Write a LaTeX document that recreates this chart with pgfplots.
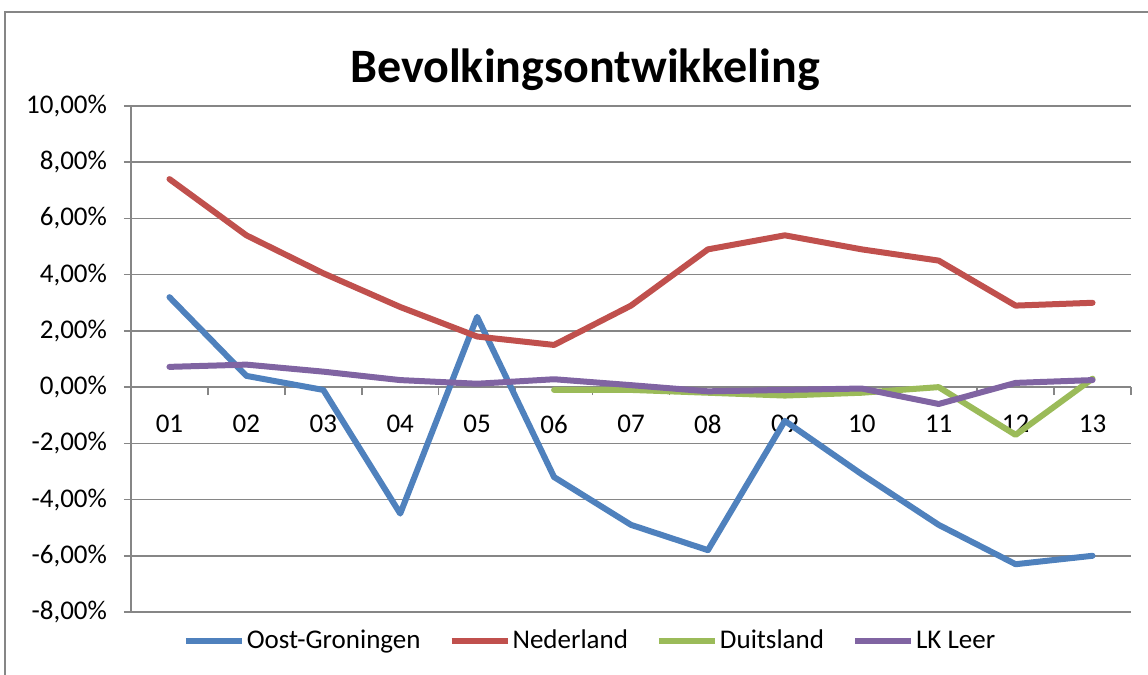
\documentclass[border=0pt]{standalone}
\usepackage{pgfplots}
\pgfplotsset{compat=1.18}
\usepackage{fontspec}
\setmainfont{Carlito}
\definecolor{gridgray}{RGB}{134,134,134}
\definecolor{cblue}{RGB}{79,129,189}
\definecolor{cred}{RGB}{192,80,77}
\definecolor{cgreen}{RGB}{155,187,89}
\definecolor{cpurple}{RGB}{128,100,162}
\begin{document}
\begin{tikzpicture}
\useasboundingbox (0,0) rectangle (574pt,-337.5pt);
\draw[gridgray, line width=1pt] (2.5pt,-6pt) rectangle (600pt,-360pt);
\node[anchor=base, font=\fontsize{24}{28}\selectfont\bfseries] at (292.5pt,-41pt) {Bevolkingsontwikkeling};
\begin{axis}[
  at={(65.5pt,-306pt)}, anchor=south west,
  scale only axis, width=500pt, height=253pt,
  xmin=0.5, xmax=13.5, ymin=-8, ymax=10,
  axis x line=middle, axis y line=left,
  axis line style={draw=gridgray, line width=0.8pt, -},
  tick align=outside,
  ytick={-8,-6,...,10},
  yticklabel={\pgfmathprintnumber[fixed,fixed zerofill,precision=2,use comma,assume math mode=true]{\tick}\%},
  yticklabel style={font=\fontsize{13.5}{16}\selectfont, xshift=-5pt},
  ymajorgrids, grid style={draw=gridgray, line width=0.8pt},
  major tick length=3.5pt,
  ytick style={draw=gridgray, line width=0.8pt},
  xtick={1,...,13},
  xticklabels={01,02,03,04,05,06,07,08,09,10,11,12,13},
  xticklabel style={font=\fontsize{13.5}{16}\selectfont, anchor=center, yshift=-15pt},
  xtick style={draw=none},
  extra x ticks={0.5,1.5,...,13.5},
  extra x tick labels={},
  extra x tick style={grid=none, xtick style={draw=gridgray, line width=0.8pt}, major tick length=4pt},
  legend style={at={(0.459,-0.057)}, anchor=center, draw=none, fill=none,
    legend columns=4, font=\fontsize{13.5}{16}\selectfont,
    /tikz/every even column/.append style={column sep=13pt},
    nodes={inner sep=1pt}},
  legend cell align=left,
  legend image code/.code={\draw[#1, line cap=butt] (0pt,0pt) -- (28pt,0pt);},
  every axis plot/.append style={line width=3pt, line join=round, line cap=round},
]
\addplot[cblue] coordinates {(1,3.2) (2,0.4) (3,-0.1) (4,-4.5) (5,2.5) (6,-3.2) (7,-4.9) (8,-5.8) (9,-1.2) (10,-3.1) (11,-4.9) (12,-6.3) (13,-6.0)};
\addlegendentry{Oost-Groningen}
\addplot[cred] coordinates {(1,7.4) (2,5.4) (3,4.05) (4,2.85) (5,1.8) (6,1.5) (7,2.9) (8,4.9) (9,5.4) (10,4.9) (11,4.5) (12,2.9) (13,3.0)};
\addlegendentry{Nederland}
\addplot[cgreen] coordinates {(6,-0.1) (7,-0.1) (8,-0.2) (9,-0.3) (10,-0.2) (11,0.0) (12,-1.7) (13,0.3)};
\addlegendentry{Duitsland}
\addplot[cpurple] coordinates {(1,0.72) (2,0.8) (3,0.55) (4,0.25) (5,0.12) (6,0.28) (7,0.07) (8,-0.15) (9,-0.1) (10,-0.05) (11,-0.6) (12,0.15) (13,0.25)};
\addlegendentry{LK Leer}
\end{axis}
\end{tikzpicture}
\end{document}
